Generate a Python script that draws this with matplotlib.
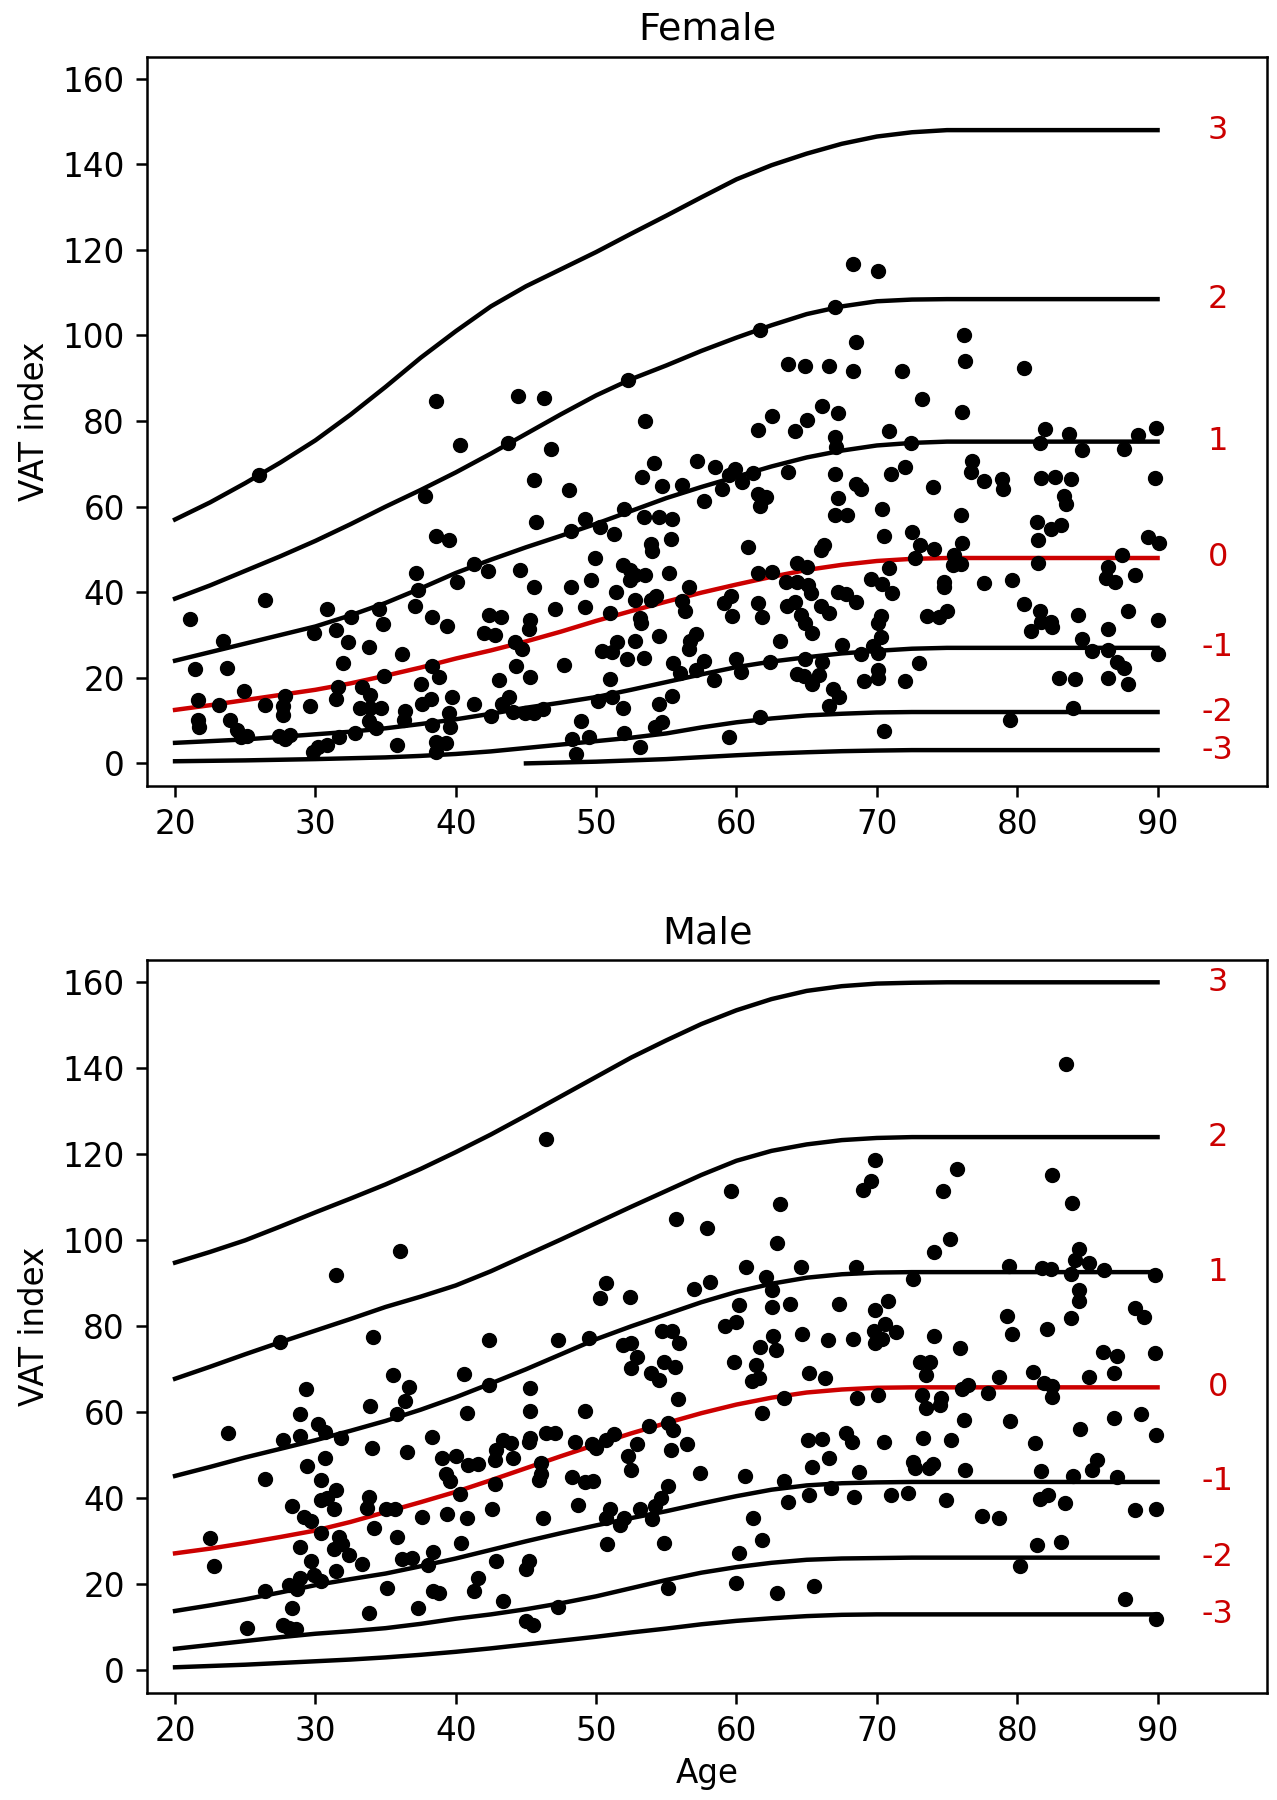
import numpy as np
import matplotlib
matplotlib.use("Agg")
import matplotlib.pyplot as plt

plt.rcParams['font.family'] = ['DejaVu Sans']
plt.rcParams['font.size'] = 23.5

RED = '#cc0000'

# z-score labels, top to bottom
z_labels = ['3', '2', '1', '0', '-1', '-2', '-3']
red_label = '0'

curve_age = [20, 22.5, 25, 27.5, 30, 32.5, 35, 37.5, 40, 42.5, 45, 47.5, 50, 52.5, 55, 57.5,
             60, 62.5, 65, 67.5, 70, 72.5, 75, 77.5, 80, 82.5, 85, 87.5, 90]

# female reference curves (VAT index at curve_age)
female_curves = {
    '3':  [57.0, 61.0, 65.5, 70.3, 75.5, 81.5, 88.0, 94.8, 101.0, 106.8, 111.5, 115.5, 119.5, 123.8, 128.0,
           132.3, 136.5, 139.8, 142.5, 144.8, 146.5, 147.5, 148.0, 148.0, 148.0, 148.0, 148.0, 148.0, 148.0],
    '2':  [38.5, 41.6, 45.0, 48.4, 52.0, 55.9, 60.0, 63.9, 68.0, 72.4, 77.0, 81.6, 86.0, 89.8, 93.0,
           96.4, 99.5, 102.4, 105.0, 106.8, 108.0, 108.4, 108.5, 108.5, 108.5, 108.5, 108.5, 108.5, 108.5],
    '1':  [24.0, 26.0, 28.0, 30.0, 32.0, 34.6, 37.5, 40.9, 44.5, 47.6, 50.5, 53.2, 56.0, 59.0, 62.0,
           64.6, 67.0, 69.4, 71.5, 73.1, 74.3, 74.9, 75.2, 75.2, 75.2, 75.2, 75.2, 75.2, 75.2],
    '0':  [12.5, 13.6, 14.8, 16.0, 17.2, 18.7, 20.5, 22.4, 24.5, 26.4, 28.5, 30.8, 33.3, 35.6, 37.8,
           39.9, 41.8, 43.6, 45.2, 46.4, 47.3, 47.8, 48.0, 48.0, 48.0, 48.0, 48.0, 48.0, 48.0],
    '-1': [4.8, 5.2, 5.6, 6.2, 6.8, 7.4, 8.2, 9.2, 10.3, 11.6, 13.0, 14.2, 15.5, 17.2, 19.0,
           20.8, 22.5, 23.8, 24.8, 25.7, 26.3, 26.8, 27.0, 27.0, 27.0, 27.0, 27.0, 27.0, 27.0],
    '-2': [0.5, 0.6, 0.7, 0.85, 1.0, 1.2, 1.4, 1.75, 2.2, 2.8, 3.6, 4.4, 5.2, 6.0, 7.0,
           8.4, 9.6, 10.5, 11.2, 11.6, 11.9, 12.0, 12.0, 12.0, 12.0, 12.0, 12.0, 12.0, 12.0],
    # -3 curve only starts at age 45
    '-3': [None, None, None, None, None, None, None, None, None, None, 0.0, 0.2, 0.4, 0.7, 1.0,
           1.45, 1.9, 2.3, 2.6, 2.85, 3.0, 3.1, 3.1, 3.1, 3.1, 3.1, 3.1, 3.1, 3.1],
}

male_curves = {
    '3':  [94.8, 97.3, 100.0, 103.2, 106.5, 109.7, 113.0, 116.6, 120.5, 124.6, 129.0, 133.5, 138.0, 142.5, 146.5,
           150.3, 153.5, 156.1, 158.0, 159.1, 159.7, 159.9, 160.0, 160.0, 160.0, 160.0, 160.0, 160.0, 160.0],
    '2':  [67.8, 70.6, 73.5, 76.3, 79.0, 81.7, 84.5, 86.9, 89.5, 92.8, 96.5, 100.2, 104.0, 107.8, 111.5,
           115.2, 118.5, 120.8, 122.3, 123.3, 123.8, 124.0, 124.0, 124.0, 124.0, 124.0, 124.0, 124.0, 124.0],
    '1':  [45.2, 47.3, 49.5, 51.5, 53.5, 55.7, 58.0, 60.6, 63.5, 66.7, 70.0, 73.5, 77.0, 80.0, 82.8,
           85.6, 88.0, 89.9, 91.3, 92.1, 92.5, 92.6, 92.6, 92.6, 92.6, 92.6, 92.6, 92.6, 92.6],
    '0':  [27.2, 28.3, 29.6, 31.0, 32.5, 34.5, 36.8, 39.1, 41.5, 44.2, 47.0, 49.8, 52.5, 55.1, 57.5,
           59.8, 61.8, 63.4, 64.6, 65.3, 65.7, 65.8, 65.8, 65.8, 65.8, 65.8, 65.8, 65.8, 65.8],
    '-1': [13.8, 15.1, 16.5, 18.1, 19.8, 21.2, 22.5, 24.2, 26.0, 28.0, 30.0, 31.9, 33.7, 35.4, 37.0,
           38.8, 40.5, 42.0, 43.0, 43.5, 43.7, 43.8, 43.8, 43.8, 43.8, 43.8, 43.8, 43.8, 43.8],
    '-2': [5.0, 5.9, 6.8, 7.7, 8.5, 9.1, 9.8, 10.8, 12.0, 13.0, 14.2, 15.6, 17.2, 19.1, 21.0,
           22.7, 24.0, 25.0, 25.7, 26.0, 26.1, 26.2, 26.2, 26.2, 26.2, 26.2, 26.2, 26.2, 26.2],
    '-3': [0.7, 1.0, 1.3, 1.7, 2.1, 2.5, 3.0, 3.6, 4.3, 5.1, 6.0, 6.9, 7.8, 8.8, 9.7,
           10.7, 11.5, 12.1, 12.6, 12.9, 13.0, 13.0, 13.0, 13.0, 13.0, 13.0, 13.0, 13.0, 13.0],
}

# observed subjects (age, VAT index)
female_pts = [
    (26.0, 67.4), (26.4, 38.3), (21.1, 33.7), (30.8, 36.1), (32.5, 34.3), (34.5, 36.1), (34.8, 32.6),
    (37.2, 44.6), (37.3, 40.6), (37.1, 36.7), (23.4, 28.5), (29.9, 30.5), (31.5, 31.1), (32.3, 28.3),
    (33.8, 27.3), (36.2, 25.5), (21.4, 22.0), (23.7, 22.4), (32.0, 23.5), (24.9, 17.0), (21.6, 14.8),
    (23.1, 13.6), (26.4, 13.6), (27.8, 15.8), (27.7, 13.4), (27.7, 11.4), (29.6, 13.3), (31.6, 17.8),
    (31.5, 15.0), (33.3, 17.8), (33.9, 16.0), (33.2, 12.9), (33.9, 12.9), (34.7, 12.9), (34.9, 20.5),
    (37.5, 18.6), (37.6, 13.8), (21.6, 10.2), (21.7, 8.6), (23.9, 10.2), (24.4, 7.8), (24.7, 6.2),
    (25.1, 6.4), (27.4, 6.4), (27.8, 5.8), (28.2, 6.6), (29.8, 2.6), (30.2, 3.8), (30.8, 4.2),
    (31.7, 6.2), (32.8, 7.0), (33.8, 9.8), (34.3, 8.2), (35.8, 4.2), (36.4, 12.2), (36.3, 10.2),
    (38.6, 84.8), (44.4, 85.9), (46.3, 85.5), (52.3, 89.6), (53.5, 80.1), (40.3, 74.4), (43.7, 74.8),
    (46.8, 73.5), (37.8, 62.6), (54.1, 70.1), (53.3, 66.9), (54.7, 64.9), (45.6, 66.3), (48.1, 63.9),
    (45.7, 56.4), (38.6, 53.2), (39.5, 52.2), (52.0, 59.4), (49.2, 57.0), (50.3, 55.2), (48.2, 54.4),
    (51.3, 53.6), (53.4, 57.6), (54.5, 57.6), (55.4, 57.2), (53.9, 51.2), (54.0, 49.6), (55.3, 52.4),
    (41.3, 46.5), (42.3, 45.0), (40.1, 42.4), (44.6, 45.2), (45.6, 41.3), (48.2, 41.3), (49.6, 42.8),
    (49.9, 48.0), (51.4, 40.0), (51.9, 46.4), (52.4, 45.2), (52.8, 44.0), (53.5, 44.0), (52.4, 42.8),
    (52.8, 38.2), (53.9, 38.3), (54.3, 39.1), (55.2, 44.4), (38.3, 34.3), (39.4, 32.1), (42.4, 34.7),
    (43.2, 34.2), (42.0, 30.5), (42.8, 30.1), (45.3, 33.5), (45.2, 31.5), (47.1, 36.1), (49.2, 36.6),
    (51.0, 35.1), (53.1, 33.9), (53.2, 32.7), (54.5, 29.7), (44.2, 28.3), (44.7, 26.7), (51.5, 28.3),
    (50.4, 26.3), (51.1, 26.1), (52.2, 24.3), (52.8, 28.5), (53.4, 24.7), (55.5, 23.5), (38.3, 22.7),
    (38.8, 20.3), (44.3, 22.7), (45.3, 20.3), (47.7, 22.9), (43.1, 19.5), (51.0, 19.7), (38.2, 15.0),
    (39.7, 15.4), (39.5, 11.8), (39.6, 8.6), (38.3, 9.0), (41.3, 13.8), (42.5, 11.0), (43.3, 13.8),
    (43.8, 15.4), (44.1, 12.0), (44.9, 11.7), (45.6, 11.8), (46.2, 12.8), (50.1, 14.6), (51.1, 15.4),
    (51.9, 13.0), (54.5, 13.8), (54.2, 8.6), (54.7, 9.6), (38.6, 5.0), (39.3, 4.7), (38.6, 2.6),
    (48.9, 10.0), (48.3, 5.8), (49.5, 6.2), (48.6, 2.3), (52.0, 7.2), (53.1, 3.9),
    (68.3, 116.7), (70.1, 115.1), (67.0, 106.7), (61.7, 101.2), (68.5, 98.5), (63.7, 93.4), (64.9, 92.8),
    (66.6, 92.8), (68.3, 91.8), (71.8, 91.6), (73.2, 85.1), (66.1, 83.5), (67.2, 81.8), (62.5, 81.1),
    (65.0, 80.3), (61.5, 77.9), (64.2, 77.6), (70.9, 77.6), (67.0, 76.3), (67.1, 73.9), (72.4, 74.9),
    (57.2, 70.7), (58.5, 69.3), (59.9, 68.9), (61.2, 67.9), (63.7, 68.1), (56.1, 65.0), (59.5, 67.3),
    (60.4, 65.7), (59.0, 64.2), (67.0, 67.7), (71.0, 67.7), (72.0, 69.3), (57.7, 61.3), (61.5, 62.9),
    (62.1, 62.3), (61.7, 60.2), (68.5, 65.3), (68.9, 64.1), (67.2, 62.1), (67.0, 58.0), (67.9, 58.0),
    (70.4, 59.4), (70.5, 53.1), (72.5, 54.0), (73.1, 51.0), (60.8, 50.6), (66.0, 49.8), (66.2, 51.0),
    (61.5, 44.6), (62.5, 44.8), (64.3, 46.8), (65.0, 46.0), (70.9, 45.6), (72.7, 48.0), (56.6, 41.2),
    (59.6, 39.1), (59.1, 37.4), (63.5, 42.4), (64.3, 42.4), (65.1, 41.6), (65.3, 39.8), (69.6, 43.2),
    (70.4, 42.0), (71.1, 39.8), (67.2, 40.0), (67.8, 39.5), (68.5, 37.7), (56.1, 37.9), (56.3, 35.5),
    (59.7, 34.5), (61.5, 37.4), (61.8, 34.3), (63.6, 36.7), (64.2, 37.7), (64.6, 34.7), (64.9, 32.9),
    (65.4, 30.5), (66.0, 36.7), (66.6, 35.1), (70.3, 34.5), (70.1, 32.7), (70.3, 29.5), (57.1, 30.3),
    (56.7, 28.7), (56.6, 26.7), (63.1, 28.5), (67.5, 27.7), (69.7, 27.5), (57.7, 23.9), (57.1, 21.9),
    (56.0, 21.1), (60.0, 24.3), (60.3, 21.3), (62.4, 23.7), (64.9, 24.3), (66.1, 23.7), (68.9, 25.6),
    (70.1, 25.9), (58.4, 19.5), (64.3, 20.8), (64.8, 20.5), (65.4, 18.6), (65.9, 20.7), (69.1, 19.2),
    (70.1, 21.9), (70.1, 20.0), (72.0, 19.2), (73.0, 23.5), (66.9, 17.4), (67.3, 15.4), (66.6, 13.4),
    (55.4, 15.7), (61.7, 10.9), (59.5, 6.2), (70.5, 7.6),
    (76.2, 100.1), (76.3, 94.0), (80.5, 92.4), (76.1, 82.2), (82.0, 78.1), (83.7, 76.9), (81.6, 74.9),
    (84.6, 73.3), (87.6, 73.5), (88.6, 76.7), (89.9, 78.3), (76.8, 70.7), (76.7, 68.2), (77.6, 65.9),
    (78.9, 66.5), (79.0, 64.1), (74.0, 64.5), (81.7, 66.6), (82.7, 66.9), (83.8, 66.5), (83.3, 62.6),
    (83.5, 60.7), (89.8, 66.6), (76.0, 58.0), (81.4, 56.4), (82.4, 54.7), (83.1, 55.6), (81.5, 52.2),
    (74.1, 50.2), (76.1, 51.4), (75.5, 48.6), (75.4, 46.4), (76.0, 46.5), (89.3, 53.0), (90.1, 51.6),
    (87.5, 48.8), (81.5, 46.8), (86.5, 46.0), (86.3, 43.3), (87.0, 42.5), (88.4, 44.0), (74.8, 42.4),
    (74.8, 41.2), (77.6, 42.1), (79.6, 42.9), (73.6, 34.5), (74.4, 34.3), (75.0, 35.5), (80.5, 37.3),
    (81.6, 35.5), (81.7, 33.1), (82.4, 33.1), (82.5, 31.8), (81.0, 30.9), (84.3, 34.6), (87.9, 35.5),
    (90.0, 33.5), (86.5, 31.5), (84.6, 29.1), (85.3, 26.3), (86.5, 26.4), (87.1, 23.7), (87.6, 22.3),
    (90.0, 25.5), (83.0, 20.0), (84.1, 19.7), (86.5, 20.0), (87.9, 18.6), (84.0, 13.0), (79.5, 10.2),
]

male_pts = [
    (36.0, 97.4), (31.5, 91.9), (27.5, 76.3), (34.1, 77.6), (35.5, 68.7), (36.7, 65.9), (36.4, 62.7),
    (35.8, 59.7), (29.3, 65.5), (33.9, 61.5), (28.9, 59.5), (30.2, 57.2), (30.7, 55.5), (23.8, 55.3),
    (27.7, 53.5), (28.9, 54.4), (31.8, 54.0), (34.0, 51.8), (36.5, 50.7), (30.7, 49.4), (29.4, 47.5),
    (26.4, 44.6), (30.4, 44.3), (31.5, 42.0), (30.4, 39.7), (30.8, 40.0), (31.3, 37.4), (33.8, 40.3),
    (33.7, 37.8), (35.0, 37.6), (35.7, 37.6), (28.3, 38.3), (37.6, 35.7), (22.5, 30.8), (29.2, 35.7),
    (29.7, 34.8), (30.4, 31.9), (34.2, 33.2), (35.8, 31.1), (31.7, 31.1), (31.9, 29.3), (31.3, 28.2),
    (28.9, 28.6), (32.4, 26.8), (22.8, 24.2), (29.7, 25.4), (33.3, 24.7), (36.2, 25.9), (36.9, 26.2),
    (31.5, 23.1), (29.9, 22.2), (30.4, 20.8), (28.9, 21.5), (28.1, 19.9), (28.7, 19.0), (26.4, 18.5),
    (35.1, 19.2), (28.3, 14.4), (33.8, 13.3), (37.3, 14.4), (25.1, 9.8), (27.7, 10.5), (28.1, 9.9),
    (28.6, 9.6),
    (46.4, 123.5), (55.7, 105.0), (50.7, 90.1), (50.3, 86.5), (52.4, 86.8), (42.4, 76.7), (47.3, 76.7),
    (49.5, 77.2), (40.6, 69.0), (42.4, 66.4), (45.3, 65.7), (54.7, 78.8), (51.9, 75.7), (52.5, 76.0),
    (52.9, 72.9), (52.5, 70.4), (53.9, 69.2), (54.5, 67.4), (54.8, 71.8), (40.8, 59.8), (45.3, 60.4),
    (49.2, 60.2), (38.3, 54.2), (43.4, 53.5), (43.9, 52.9), (42.9, 51.2), (45.2, 53.0), (45.3, 54.0),
    (46.4, 55.3), (47.1, 55.1), (48.5, 53.2), (49.7, 52.6), (50.0, 51.7), (50.7, 53.5), (51.3, 54.9),
    (52.9, 52.6), (53.8, 56.9), (39.0, 49.4), (40.0, 49.8), (40.9, 47.7), (41.6, 48.0), (42.8, 48.9),
    (44.1, 49.4), (46.1, 48.3), (52.3, 49.8), (52.5, 46.6), (39.3, 45.7), (39.6, 44.0), (42.8, 43.4),
    (45.9, 44.3), (46.1, 45.7), (48.3, 44.9), (49.2, 43.8), (49.8, 44.0), (40.3, 41.1), (55.1, 42.9),
    (39.4, 36.3), (40.8, 35.5), (42.6, 37.4), (46.2, 35.5), (48.7, 38.5), (51.0, 37.6), (50.7, 35.4),
    (52.0, 35.4), (51.7, 33.7), (53.1, 37.6), (54.2, 38.3), (54.6, 40.0), (54.0, 35.1), (40.4, 29.6),
    (50.8, 29.3), (54.8, 29.6), (38.4, 27.4), (38.0, 24.5), (42.9, 25.4), (45.2, 25.4), (45.0, 23.6),
    (41.6, 21.5), (41.3, 18.5), (38.4, 18.5), (38.8, 17.9), (43.4, 16.0), (47.3, 14.8), (45.0, 11.4),
    (45.5, 10.5), (55.1, 19.2),
    (69.9, 118.6), (69.6, 113.8), (69.0, 111.7), (59.6, 111.5), (63.1, 108.5), (57.9, 102.8), (62.9, 99.3),
    (60.7, 93.8), (64.6, 93.7), (68.5, 93.8), (72.6, 91.0), (58.1, 90.2), (57.0, 88.7), (62.1, 91.5),
    (62.5, 88.5), (60.2, 85.0), (62.5, 84.4), (63.8, 85.3), (67.3, 85.3), (69.9, 83.7), (70.8, 85.8),
    (70.6, 80.5), (69.8, 78.8), (70.4, 77.0), (69.9, 76.1), (71.4, 78.6), (55.4, 78.8), (55.9, 76.1),
    (59.2, 80.0), (60.0, 80.9), (61.7, 75.1), (62.6, 77.7), (62.8, 74.4), (64.7, 78.2), (66.5, 76.7),
    (68.3, 77.0), (55.6, 70.5), (59.8, 71.6), (61.4, 71.0), (61.1, 67.3), (61.6, 67.9), (65.2, 69.2),
    (66.3, 68.0), (55.8, 63.2), (63.4, 63.4), (68.6, 63.4), (70.1, 64.1), (55.1, 57.6), (55.5, 55.8),
    (61.8, 59.8), (55.3, 51.2), (56.5, 52.6), (65.1, 53.5), (66.1, 53.8), (67.8, 55.1), (68.2, 53.0),
    (70.5, 53.0), (66.6, 49.4), (65.4, 47.2), (68.7, 46.1), (57.4, 45.9), (60.6, 45.2), (63.4, 44.0),
    (63.7, 39.2), (65.2, 40.8), (66.7, 42.4), (68.4, 40.3), (71.0, 40.8), (72.2, 41.3), (72.6, 48.4),
    (72.7, 47.1), (61.2, 35.5), (61.8, 30.2), (60.2, 27.3), (60.0, 20.2), (62.9, 18.0), (65.5, 19.6),
    (83.5, 141.0), (75.7, 116.6), (82.5, 115.1), (74.7, 111.5), (83.9, 108.7), (75.2, 100.2), (74.1, 97.2),
    (84.4, 98.0), (84.1, 95.4), (85.1, 94.7), (79.4, 94.0), (81.8, 93.5), (82.4, 93.4), (86.2, 93.1),
    (83.8, 92.2), (89.8, 92.0), (84.4, 88.5), (84.4, 85.8), (83.8, 82.0), (88.4, 84.3), (89.0, 82.2),
    (79.3, 82.3), (79.6, 78.2), (82.1, 79.3), (74.1, 77.7), (75.9, 75.0), (86.1, 74.0), (87.1, 73.1),
    (89.8, 73.8), (73.1, 71.6), (73.8, 71.6), (73.5, 68.7), (86.9, 69.2), (73.2, 64.1), (73.5, 61.1),
    (74.6, 63.4), (74.5, 61.8), (76.1, 65.5), (76.5, 66.4), (77.9, 64.5), (78.7, 68.2), (81.1, 69.4),
    (81.9, 66.7), (82.5, 66.1), (82.5, 63.6), (85.1, 68.2), (76.2, 58.1), (79.5, 57.9), (84.5, 56.1),
    (86.9, 58.6), (88.8, 59.5), (89.9, 54.7), (73.3, 54.0), (75.3, 53.5), (81.3, 52.8), (73.7, 47.1),
    (74.0, 48.0), (76.3, 46.6), (81.7, 46.3), (84.0, 45.2), (85.3, 46.6), (85.7, 48.9), (87.1, 44.9),
    (74.9, 39.7), (81.6, 39.9), (82.2, 40.8), (83.4, 39.0), (77.5, 35.8), (78.7, 35.5), (88.4, 37.2),
    (89.9, 37.6), (81.4, 29.1), (83.1, 29.8), (80.2, 24.3), (87.7, 16.5), (89.9, 11.9),
]

x_ticks = [20, 30, 40, 50, 60, 70, 80, 90]
y_ticks = [0, 20, 40, 60, 80, 100, 120, 140, 160]


def draw_panel(ax, title, curves, pts, xlabel=None):
    age = np.array(curve_age, dtype=float)
    for z in z_labels:
        vals = np.array([np.nan if v is None else v for v in curves[z]], dtype=float)
        ok = ~np.isnan(vals)
        color = RED if z == red_label else 'black'
        ax.plot(age[ok], vals[ok], color=color, lw=3.2, zorder=2,
                solid_joinstyle='round')
        ax.text(94.3, vals[ok][-1], z, color=RED, ha='center', va='center', fontsize=23)

    p = np.array(pts)
    ax.scatter(p[:, 0], p[:, 1], s=100, color='black', zorder=3)

    ax.set_xlim(18.0, 97.8)
    ax.set_ylim(-5.3, 165.2)
    ax.set_xticks(x_ticks)
    ax.set_yticks(y_ticks)
    ax.set_title(title, fontsize=27.5, pad=12)
    ax.set_ylabel("VAT index", labelpad=8)
    if xlabel:
        ax.set_xlabel(xlabel, labelpad=6)
    ax.tick_params(length=8, width=1.8, pad=8)
    for sp in ax.spines.values():
        sp.set_linewidth(1.8)


fig = plt.figure(figsize=(12.77, 18), dpi=100)
ax_f = fig.add_axes([0.1151, 0.5633, 0.8771, 0.4053])
ax_m = fig.add_axes([0.1151, 0.0594, 0.8771, 0.4073])

draw_panel(ax_f, "Female", female_curves, female_pts)
draw_panel(ax_m, "Male", male_curves, male_pts, xlabel="Age")

fig.savefig("out.png", dpi=100)
plt.close(fig)
